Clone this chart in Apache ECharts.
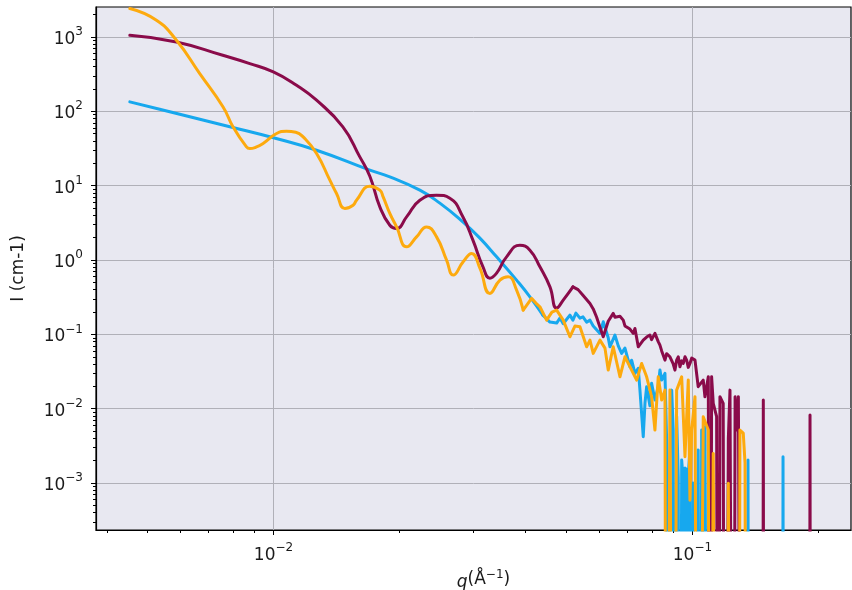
<!DOCTYPE html>
<html>
<head>
<meta charset="utf-8">
<script src="https://cdn.jsdelivr.net/npm/echarts@6/dist/echarts.min.js"></script>
<style>
    html, body { margin: 0; padding: 0; background: #fff; }
    #chart { width: 852px; height: 590px; }
</style>
</head>
<body>
<div id="chart"></div>
<script>
// values; F marks points below zero (they drop off the bottom)
const F = 1e-12;

const X_MIN = 0.00377, X_MAX = 0.239;
const Y_MIN = 2.34e-4, Y_MAX = 2530;

const xMajor = [0.01, 0.1];
const xMinor = [0.004, 0.005, 0.006, 0.007, 0.008, 0.009, 0.02, 0.03, 0.04, 0.05, 0.06, 0.07, 0.08, 0.09, 0.2];
const yMajor = [1e-3, 1e-2, 1e-1, 1, 10, 100, 1000];
const yMinor = [3e-4, 4e-4, 5e-4, 6e-4, 7e-4, 8e-4, 9e-4,
    2e-3, 3e-3, 4e-3, 5e-3, 6e-3, 7e-3, 8e-3, 9e-3,
    0.02, 0.03, 0.04, 0.05, 0.06, 0.07, 0.08, 0.09,
    0.2, 0.3, 0.4, 0.5, 0.6, 0.7, 0.8, 0.9,
    2, 3, 4, 5, 6, 7, 8, 9, 20, 30, 40, 50, 60, 70, 80, 90,
    200, 300, 400, 500, 600, 700, 800, 900, 2000];

// smooth low-q parts
const blueLow = [
    [0.00454, 134], [0.00535, 106.7], [0.00667, 78.3], [0.00831, 57.5], [0.0100, 44.2],
    [0.01267, 30.0], [0.01698, 16.2], [0.01895, 13.1], [0.02235, 8.70], [0.02495, 5.82],
    [0.02831, 3.26], [0.03109, 1.97], [0.03408, 1.104], [0.03804, 0.537], [0.04093, 0.320],
    [0.04395, 0.1816]
];
const maroonLow = [
    [0.00454, 1054], [0.005866, 857], [0.007567, 567], [0.008778, 439], [0.00999, 339],
    [0.01135, 224], [0.01267, 141], [0.01464, 61.7], [0.01607, 24.4], [0.01698, 13.4],
    [0.01794, 5.19], [0.01895, 2.94], [0.01967, 2.66], [0.02078, 3.81], [0.02235, 6.38],
    [0.0245, 7.45], [0.02636, 6.79], [0.02831, 3.81], [0.02992, 1.85], [0.03162, 0.810],
    [0.03285, 0.571], [0.03408, 0.667], [0.036, 1.104], [0.03874, 1.585], [0.04093, 1.358],
    [0.04324, 0.810], [0.04569, 0.436], [0.0474, 0.2256], [0.04915, 0.289], [0.05184, 0.436]
];
const orangeLow = [
    [0.00454, 2410], [0.005255, 1677], [0.005866, 903], [0.006668, 322], [0.00758, 114.6],
    [0.008008, 61.7], [0.00862, 33.2], [0.008778, 31.6], [0.009073, 32.9], [0.009445, 36.9],
    [0.01017, 50.3], [0.01074, 54], [0.0113, 52.4], [0.01177, 45.3], [0.01267, 27.1],
    [0.01363, 11.86], [0.01414, 7.86], [0.0148, 4.94], [0.01549, 5.47],
    [0.01578, 6.38], [0.01698, 9.85], [0.01794, 8.70], [0.01827, 7.07], [0.01895, 4.23],
    [0.01967, 2.79], [0.02078, 1.504], [0.02195, 2.05], [0.02319, 2.79], [0.0245, 2.05],
    [0.02589, 0.997], [0.02685, 0.627], [0.02836, 0.946], [0.02971, 1.227], [0.03109, 0.778],
    [0.03285, 0.356], [0.03471, 0.537], [0.03632, 0.594], [0.03804, 0.394], [0.03945, 0.212]
];

// noisy high-q parts
const blueHigh = [
    [0.04395, 0.1816], [0.04569, 0.1463], [0.0474, 0.1419], [0.04827, 0.1656], [0.04915, 0.139],
    [0.05099, 0.1816], [0.05184, 0.1556], [0.0527, 0.193], [0.05388, 0.1656], [0.05478, 0.1724],
    [0.0559, 0.146], [0.05693, 0.1556], [0.05796, 0.13], [0.06015, 0.1031], [0.06124, 0.1477],
    [0.06294, 0.09], [0.06353, 0.0681], [0.06531, 0.0979], [0.06651, 0.07], [0.06776, 0.0555],
    [0.069, 0.0654], [0.07092, 0.0367], [0.07158, 0.045], [0.0729, 0.0299], [0.07424, 0.035],
    [0.07493, 0.0178], [0.0763, 0.00421], [0.07704, 0.012], [0.07774, 0.0198], [0.07914, 0.011],
    [0.07989, 0.02195], [0.08136, 0.01309], [0.08285, 0.02], [0.08363, 0.0331], [0.08443, 0.0243],
    [0.08597, 0.0299], [0.08677, 0.0038], [0.08755, F], [0.08835, 0.002], [0.08921, 0.0178],
    [0.08996, 0.00517], [0.09083, F], [0.09167, 0.0079], [0.09249, 0.0012], [0.09335, F],
    [0.09424, 0.00204], [0.09506, 0.0011], [0.09551, F], [0.09597, 0.0016], [0.09685, 0.0015],
    [0.09728, F], [0.09772, 0.0013], [0.09863, 0.00279], [0.09957, F], [0.1004, 0.001],
    [0.1014, F], [0.1032, 0.00279], [0.1042, F], [0.1052, 0.00517], [0.1061, F],
    [0.1071, 0.00573], [0.1091, F], [0.1350, F], [0.1357, 0.00204], [0.1364, F],
    [0.1638, F], [0.1645, 0.00226], [0.1652, F], [0.21, F]
];
const maroonHigh = [
    [0.05184, 0.436], [0.05333, 0.40], [0.05478, 0.337], [0.05693, 0.261], [0.05796, 0.22],
    [0.05906, 0.17], [0.06015, 0.125], [0.06124, 0.0929], [0.06294, 0.15], [0.0647, 0.1915],
    [0.06531, 0.17], [0.06713, 0.175], [0.06836, 0.1556], [0.069, 0.13], [0.07092, 0.118],
    [0.07222, 0.1031], [0.0729, 0.12], [0.07424, 0.0681], [0.0763, 0.0838], [0.07774, 0.092],
    [0.07914, 0.0979], [0.07989, 0.085], [0.08136, 0.1031], [0.08285, 0.08], [0.08363, 0.0718],
    [0.08443, 0.06], [0.08597, 0.0451], [0.08677, 0.055], [0.08835, 0.0500], [0.08996, 0.04],
    [0.09083, 0.0331], [0.09167, 0.045], [0.09249, 0.0500], [0.09335, 0.0367], [0.09424, 0.044],
    [0.09506, 0.0407], [0.09597, 0.05], [0.09685, 0.0451], [0.09772, 0.036], [0.09863, 0.0407],
    [0.09957, 0.048], [0.1014, 0.0451], [0.1032, 0.0198], [0.1061, 0.0243], [0.1071, 0.0145],
    [0.1091, 0.0269], [0.1101, F], [0.1111, 0.0269], [0.1121, 0.0118], [0.1142, 0.00781],
    [0.1152, F], [0.1163, 0.0145], [0.1184, 0.0118], [0.1196, F], [0.1218, 0.004],
    [0.1229, 0.0178], [0.1252, F], [0.1264, 0.0145], [0.1275, 0.00517], [0.1287, 0.0145],
    [0.1311, F], [0.1469, F], [0.1476, 0.01309], [0.1483, F], [0.1900, F],
    [0.1908, 0.00823], [0.1916, F], [0.24, F]
];
const orangeHigh = [
    [0.03945, 0.212], [0.0413, 0.305], [0.04229, 0.2636], [0.04324, 0.235], [0.04487, 0.1556],
    [0.04619, 0.1995], [0.0474, 0.212], [0.04915, 0.1556], [0.05099, 0.0929], [0.05241, 0.1293],
    [0.05388, 0.1265], [0.0559, 0.0681], [0.05693, 0.0838], [0.05796, 0.0555], [0.06015, 0.0838],
    [0.06182, 0.0654], [0.06294, 0.0331], [0.0647, 0.0681], [0.06713, 0.0269], [0.069, 0.0500],
    [0.07158, 0.0331], [0.07358, 0.0243], [0.07564, 0.0407], [0.07774, 0.0269], [0.07989, 0.0145],
    [0.08136, 0.00517], [0.08285, 0.0269], [0.08443, 0.01309], [0.08597, 0.0178], [0.08677, F],
    [0.08835, 0.0178], [0.08996, F], [0.09167, 0.0178], [0.09424, 0.0269], [0.09597, 0.00226],
    [0.09772, 0.0243], [0.09863, 0.00059], [0.09957, 0.00517], [0.1014, 0.0145], [0.1032, F],
    [0.1061, 0.00781], [0.1091, 0.00517], [0.1101, F], [0.1121, 0.00251], [0.1142, F],
    [0.1207, F], [0.1218, 0.000994], [0.1241, F], [0.1287, F], [0.1298, 0.00517],
    [0.1322, 0.00471], [0.1335, 0.00186], [0.1347, F], [0.22, F]
];

const FONT = "DejaVu Sans";
const TXT = "#1a1a1a";

function powLabel(v) {
    let e = Math.round(Math.log10(v));
    return "{b|10}{s|" + String(e).replace("-", "\u2212") + "}";
}

function lineSeries(data, color, smooth) {
    return {
        type: "line",
        data: data,
        smooth: smooth,
        showSymbol: false,
        clip: true,
        lineStyle: { color: color, width: 3, join: "round", cap: "round" },
        itemStyle: { color: color },
        emphasis: { disabled: true },
    };
}

const tickRich = {
    b: { fontFamily: FONT, fontSize: 17, color: TXT, lineHeight: 22, verticalAlign: "bottom" },
    s: { fontFamily: FONT, fontSize: 12, color: TXT, lineHeight: 12, verticalAlign: "top" },
};

let chart = echarts.init(document.getElementById("chart"));

chart.setOption({
    animation: false,
    backgroundColor: "#ffffff",
    grid: {
        show: true,
        left: 96,
        right: 1,
        top: 7,
        bottom: 60,
        outerBoundsMode: "none",
        containLabel: false,
        backgroundColor: "#e8e8f1",
        borderColor: "#000",
        borderWidth: 1.2,
    },
    xAxis: [
        {
            type: "log",
            min: X_MIN,
            max: X_MAX,
            position: "bottom",
            name: "{i|q}(Å{s|\u22121})",
            nameLocation: "middle",
            nameGap: 36,
            nameTextStyle: {
                fontFamily: FONT,
                fontSize: 17,
                color: TXT,
                padding: [0, 0, 0, 20],
                rich: {
                    i: { fontFamily: FONT, fontSize: 17, fontStyle: "italic", color: TXT, lineHeight: 22, verticalAlign: "bottom" },
                    s: { fontFamily: FONT, fontSize: 12, color: TXT, lineHeight: 12, verticalAlign: "top" },
                },
            },
            axisLine: { lineStyle: { color: "#000", width: 1.2 } },
            axisTick: { customValues: xMajor, length: 5, lineStyle: { color: "#000" } },
            axisLabel: {
                customValues: xMajor,
                formatter: powLabel,
                margin: 12,
                rich: tickRich,
            },
            splitLine: { show: true, lineStyle: { color: "#b0b0b8", width: 1 } },
        },
        {
            type: "log",
            min: X_MIN,
            max: X_MAX,
            position: "bottom",
            axisLine: { show: false },
            axisTick: { customValues: xMinor, length: 3, lineStyle: { color: "#000" } },
            axisLabel: { show: false },
            splitLine: { show: false },
        },
    ],
    yAxis: [
        {
            type: "log",
            min: Y_MIN,
            max: Y_MAX,
            position: "left",
            name: "I (cm-1)",
            nameLocation: "middle",
            nameGap: 69,
            nameTextStyle: { fontFamily: FONT, fontSize: 17, color: TXT },
            axisLine: { lineStyle: { color: "#000", width: 1.2 } },
            axisTick: { customValues: yMajor, length: 5, lineStyle: { color: "#000" } },
            axisLabel: {
                customValues: yMajor,
                formatter: powLabel,
                margin: 13,
                rich: tickRich,
            },
            splitLine: { show: true, lineStyle: { color: "#b0b0b8", width: 1 } },
        },
        {
            type: "log",
            min: Y_MIN,
            max: Y_MAX,
            position: "left",
            axisLine: { show: false },
            axisTick: { customValues: yMinor, length: 3, lineStyle: { color: "#000" } },
            axisLabel: { show: false },
            splitLine: { show: false },
        },
    ],
    series: [
        lineSeries(blueLow, "#17a8ee", 0.5),
        lineSeries(blueHigh, "#17a8ee", false),
        lineSeries(maroonLow, "#8a0b4a", 0.5),
        lineSeries(maroonHigh, "#8a0b4a", false),
        lineSeries(orangeLow, "#fdaa0e", 0.5),
        lineSeries(orangeHigh, "#fdaa0e", false),
    ],
});
</script>
</body>
</html>
